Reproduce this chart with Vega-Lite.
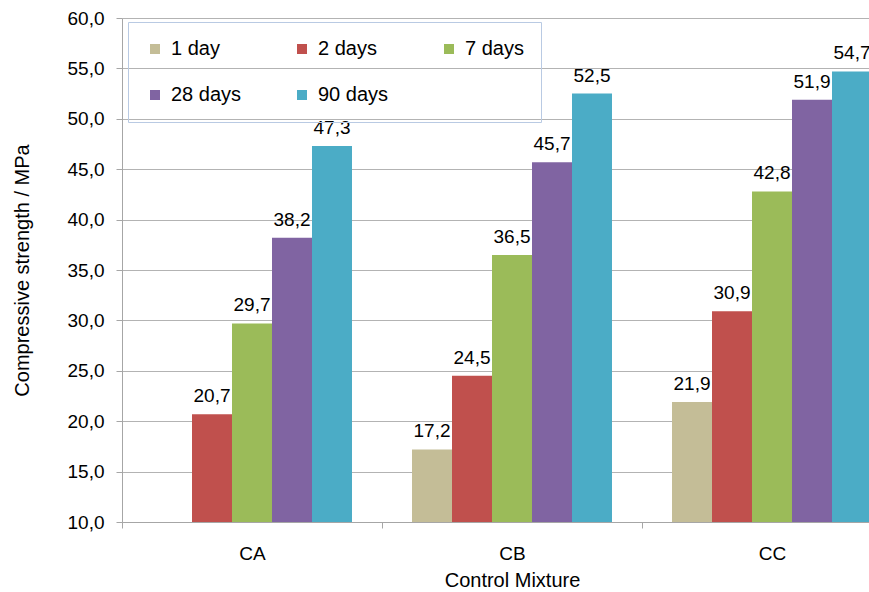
{
  "$schema": "https://vega.github.io/schema/vega-lite/v6.json",
  "width": 746,
  "height": 504,
  "padding": {"top": 9, "left": 12, "right": 0, "bottom": 0},
  "config": {
    "locale": {"number": {"decimal": ",", "thousands": ".", "grouping": [3], "currency": ["", " €"]}},
    "view": {"stroke": null},
    "font": "Liberation Sans",
    "background": "white"
  },
  "data": {
    "values": [
      {"mixture": "CA", "age": "2 days", "value": 20.7},
      {"mixture": "CA", "age": "7 days", "value": 29.7},
      {"mixture": "CA", "age": "28 days", "value": 38.2},
      {"mixture": "CA", "age": "90 days", "value": 47.3},
      {"mixture": "CB", "age": "1 day", "value": 17.2},
      {"mixture": "CB", "age": "2 days", "value": 24.5},
      {"mixture": "CB", "age": "7 days", "value": 36.5},
      {"mixture": "CB", "age": "28 days", "value": 45.7},
      {"mixture": "CB", "age": "90 days", "value": 52.5},
      {"mixture": "CC", "age": "1 day", "value": 21.9},
      {"mixture": "CC", "age": "2 days", "value": 30.9},
      {"mixture": "CC", "age": "7 days", "value": 42.8},
      {"mixture": "CC", "age": "28 days", "value": 51.9},
      {"mixture": "CC", "age": "90 days", "value": 54.7}
    ]
  },
  "encoding": {
    "x": {
      "field": "mixture",
      "type": "nominal",
      "title": "Control Mixture",
      "scale": {"range": [0, 780], "paddingInner": 0.2308, "paddingOuter": 0.1154},
      "axis": {
        "labelAngle": 0,
        "tickOffset": -130,
        "labelOffset": 130,
        "tickSize": 6,
        "tickWidth": 1,
        "labelPadding": 16,
        "labelFontSize": 19,
        "labelColor": "black",
        "titleFontSize": 20,
        "titleFontWeight": "normal",
        "titleColor": "black",
        "titlePadding": 7,
        "domainColor": "#a6a6a6",
        "tickColor": "#a6a6a6",
        "grid": false
      }
    },
    "xOffset": {
      "field": "age",
      "type": "nominal",
      "scale": {"domain": ["1 day", "2 days", "7 days", "28 days", "90 days"], "paddingInner": 0, "paddingOuter": 0}
    },
    "y": {
      "field": "value",
      "type": "quantitative",
      "title": "Compressive strength / MPa",
      "scale": {"domain": [10, 60], "zero": false, "nice": false},
      "axis": {
        "values": [10, 15, 20, 25, 30, 35, 40, 45, 50, 55, 60],
        "format": ".1f",
        "tickSize": 6,
        "labelPadding": 12,
        "labelFontSize": 19,
        "labelColor": "black",
        "titleFontSize": 20,
        "titleFontWeight": "normal",
        "titleColor": "black",
        "titlePadding": 35,
        "domainColor": "#a6a6a6",
        "tickColor": "#a6a6a6",
        "grid": true,
        "gridColor": "#b3b3b3"
      }
    }
  },
  "layer": [
    {
      "mark": {"type": "bar"},
      "encoding": {
        "y2": {"datum": 10},
        "color": {
          "field": "age",
          "type": "nominal",
          "scale": {
            "domain": ["1 day", "2 days", "7 days", "28 days", "90 days"],
            "range": ["#C4BD97", "#C0504D", "#9BBB59", "#8064A2", "#4BACC6"]
          },
          "legend": {
            "orient": "none",
            "legendX": 6,
            "legendY": 4,
            "direction": "horizontal",
            "columns": 3,
            "title": null,
            "symbolType": "square",
            "symbolSize": 100,
            "symbolStrokeWidth": 0,
            "labelFontSize": 20,
            "labelColor": "black",
            "labelOffset": 6,
            "columnPadding": 50,
            "rowPadding": 26,
            "padding": 17,
            "gridAlign": "all",
            "strokeColor": "#b9cae3"
          }
        }
      }
    },
    {
      "mark": {"type": "text", "baseline": "alphabetic", "dy": -12, "fontSize": 19, "color": "black"},
      "encoding": {
        "text": {"field": "value", "type": "quantitative", "format": ".1f"}
      }
    }
  ]
}
